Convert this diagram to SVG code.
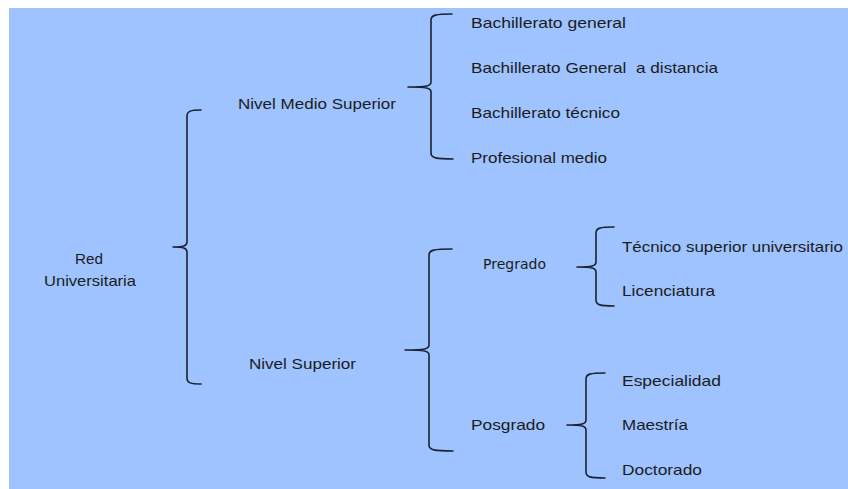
<svg xmlns="http://www.w3.org/2000/svg" width="848" height="489" viewBox="0 0 848 489">
<style>
.t{font-family:"Liberation Sans",Arial,sans-serif;font-size:15px;fill:#1c1c1c;white-space:pre}
.p{font-family:"DejaVu Sans",Verdana,sans-serif;font-size:14px;fill:#1c1c1c}
.br{fill:none;stroke:#1b2230;stroke-width:1.6;stroke-linecap:round;stroke-linejoin:round}
</style>
<rect x="0" y="0" width="848" height="489" fill="#ffffff"/>
<rect x="9" y="8" width="839" height="481" fill="#9ec3fe"/>
<g id="connectors">
<path class="br" d="M201 110 C191 110,187 111,187 116 L187 242 C187 246,183 247,173 247 C183 247,187 248,187 252 L187 378 C187 383,191 384,201 384"/>
<path class="br" d="M452 14 C436 14,431 15,431 20 L431 82 C431 86,427 87,408 87 C427 87,431 88,431 92 L431 153 C431 158,436 159,453 159"/>
<path class="br" d="M452 249 C434 249,429 250,429 255 L429 345 C429 349,425 350,405 350 C425 350,429 351,429 355 L429 445 C429 450,434 451,453 451"/>
<path class="br" d="M614 227 C600 227,596 228,596 233 L596 262 C596 266,592 267,577 267 C592 267,596 268,596 272 L596 300 C596 305,600 306,614 306"/>
<path class="br" d="M605 373 C590 373,586 374,586 379 L586 420 C586 424,582 425,567 425 C582 425,586 426,586 430 L586 472 C586 477,590 478,605 478"/>
</g>
<g id="red-universitaria">
<text class="t" x="89" y="264" text-anchor="middle" textLength="28" lengthAdjust="spacingAndGlyphs">Red</text>
<text class="t" x="90" y="286" text-anchor="middle" textLength="92" lengthAdjust="spacingAndGlyphs">Universitaria</text>
</g>
<g id="nivel-medio-superior">
<text class="t" x="238" y="109" textLength="158" lengthAdjust="spacingAndGlyphs">Nivel Medio Superior</text>
</g>
<g id="nivel-superior">
<text class="t" x="249" y="369" textLength="107" lengthAdjust="spacingAndGlyphs">Nivel Superior</text>
</g>
<g id="bachillerato-general">
<text class="t" x="471" y="28" textLength="155" lengthAdjust="spacingAndGlyphs">Bachillerato general</text>
</g>
<g id="bachillerato-distancia">
<text class="t" x="471" y="73" textLength="247" lengthAdjust="spacingAndGlyphs">Bachillerato General  a distancia</text>
</g>
<g id="bachillerato-tecnico">
<text class="t" x="471" y="118" textLength="149" lengthAdjust="spacingAndGlyphs">Bachillerato técnico</text>
</g>
<g id="profesional-medio">
<text class="t" x="471" y="163" textLength="136" lengthAdjust="spacingAndGlyphs">Profesional medio</text>
</g>
<g id="pregrado">
<text class="p" x="483" y="269" textLength="63" lengthAdjust="spacingAndGlyphs">Pregrado</text>
</g>
<g id="posgrado">
<text class="t" x="471" y="430" textLength="74" lengthAdjust="spacingAndGlyphs">Posgrado</text>
</g>
<g id="tecnico-superior">
<text class="t" x="622" y="252" textLength="221" lengthAdjust="spacingAndGlyphs">Técnico superior universitario</text>
</g>
<g id="licenciatura">
<text class="t" x="622" y="296" textLength="93" lengthAdjust="spacingAndGlyphs">Licenciatura</text>
</g>
<g id="especialidad">
<text class="t" x="622" y="386" textLength="99" lengthAdjust="spacingAndGlyphs">Especialidad</text>
</g>
<g id="maestria">
<text class="t" x="622" y="430" textLength="66" lengthAdjust="spacingAndGlyphs">Maestría</text>
</g>
<g id="doctorado">
<text class="t" x="622" y="475" textLength="80" lengthAdjust="spacingAndGlyphs">Doctorado</text>
</g>
</svg>
